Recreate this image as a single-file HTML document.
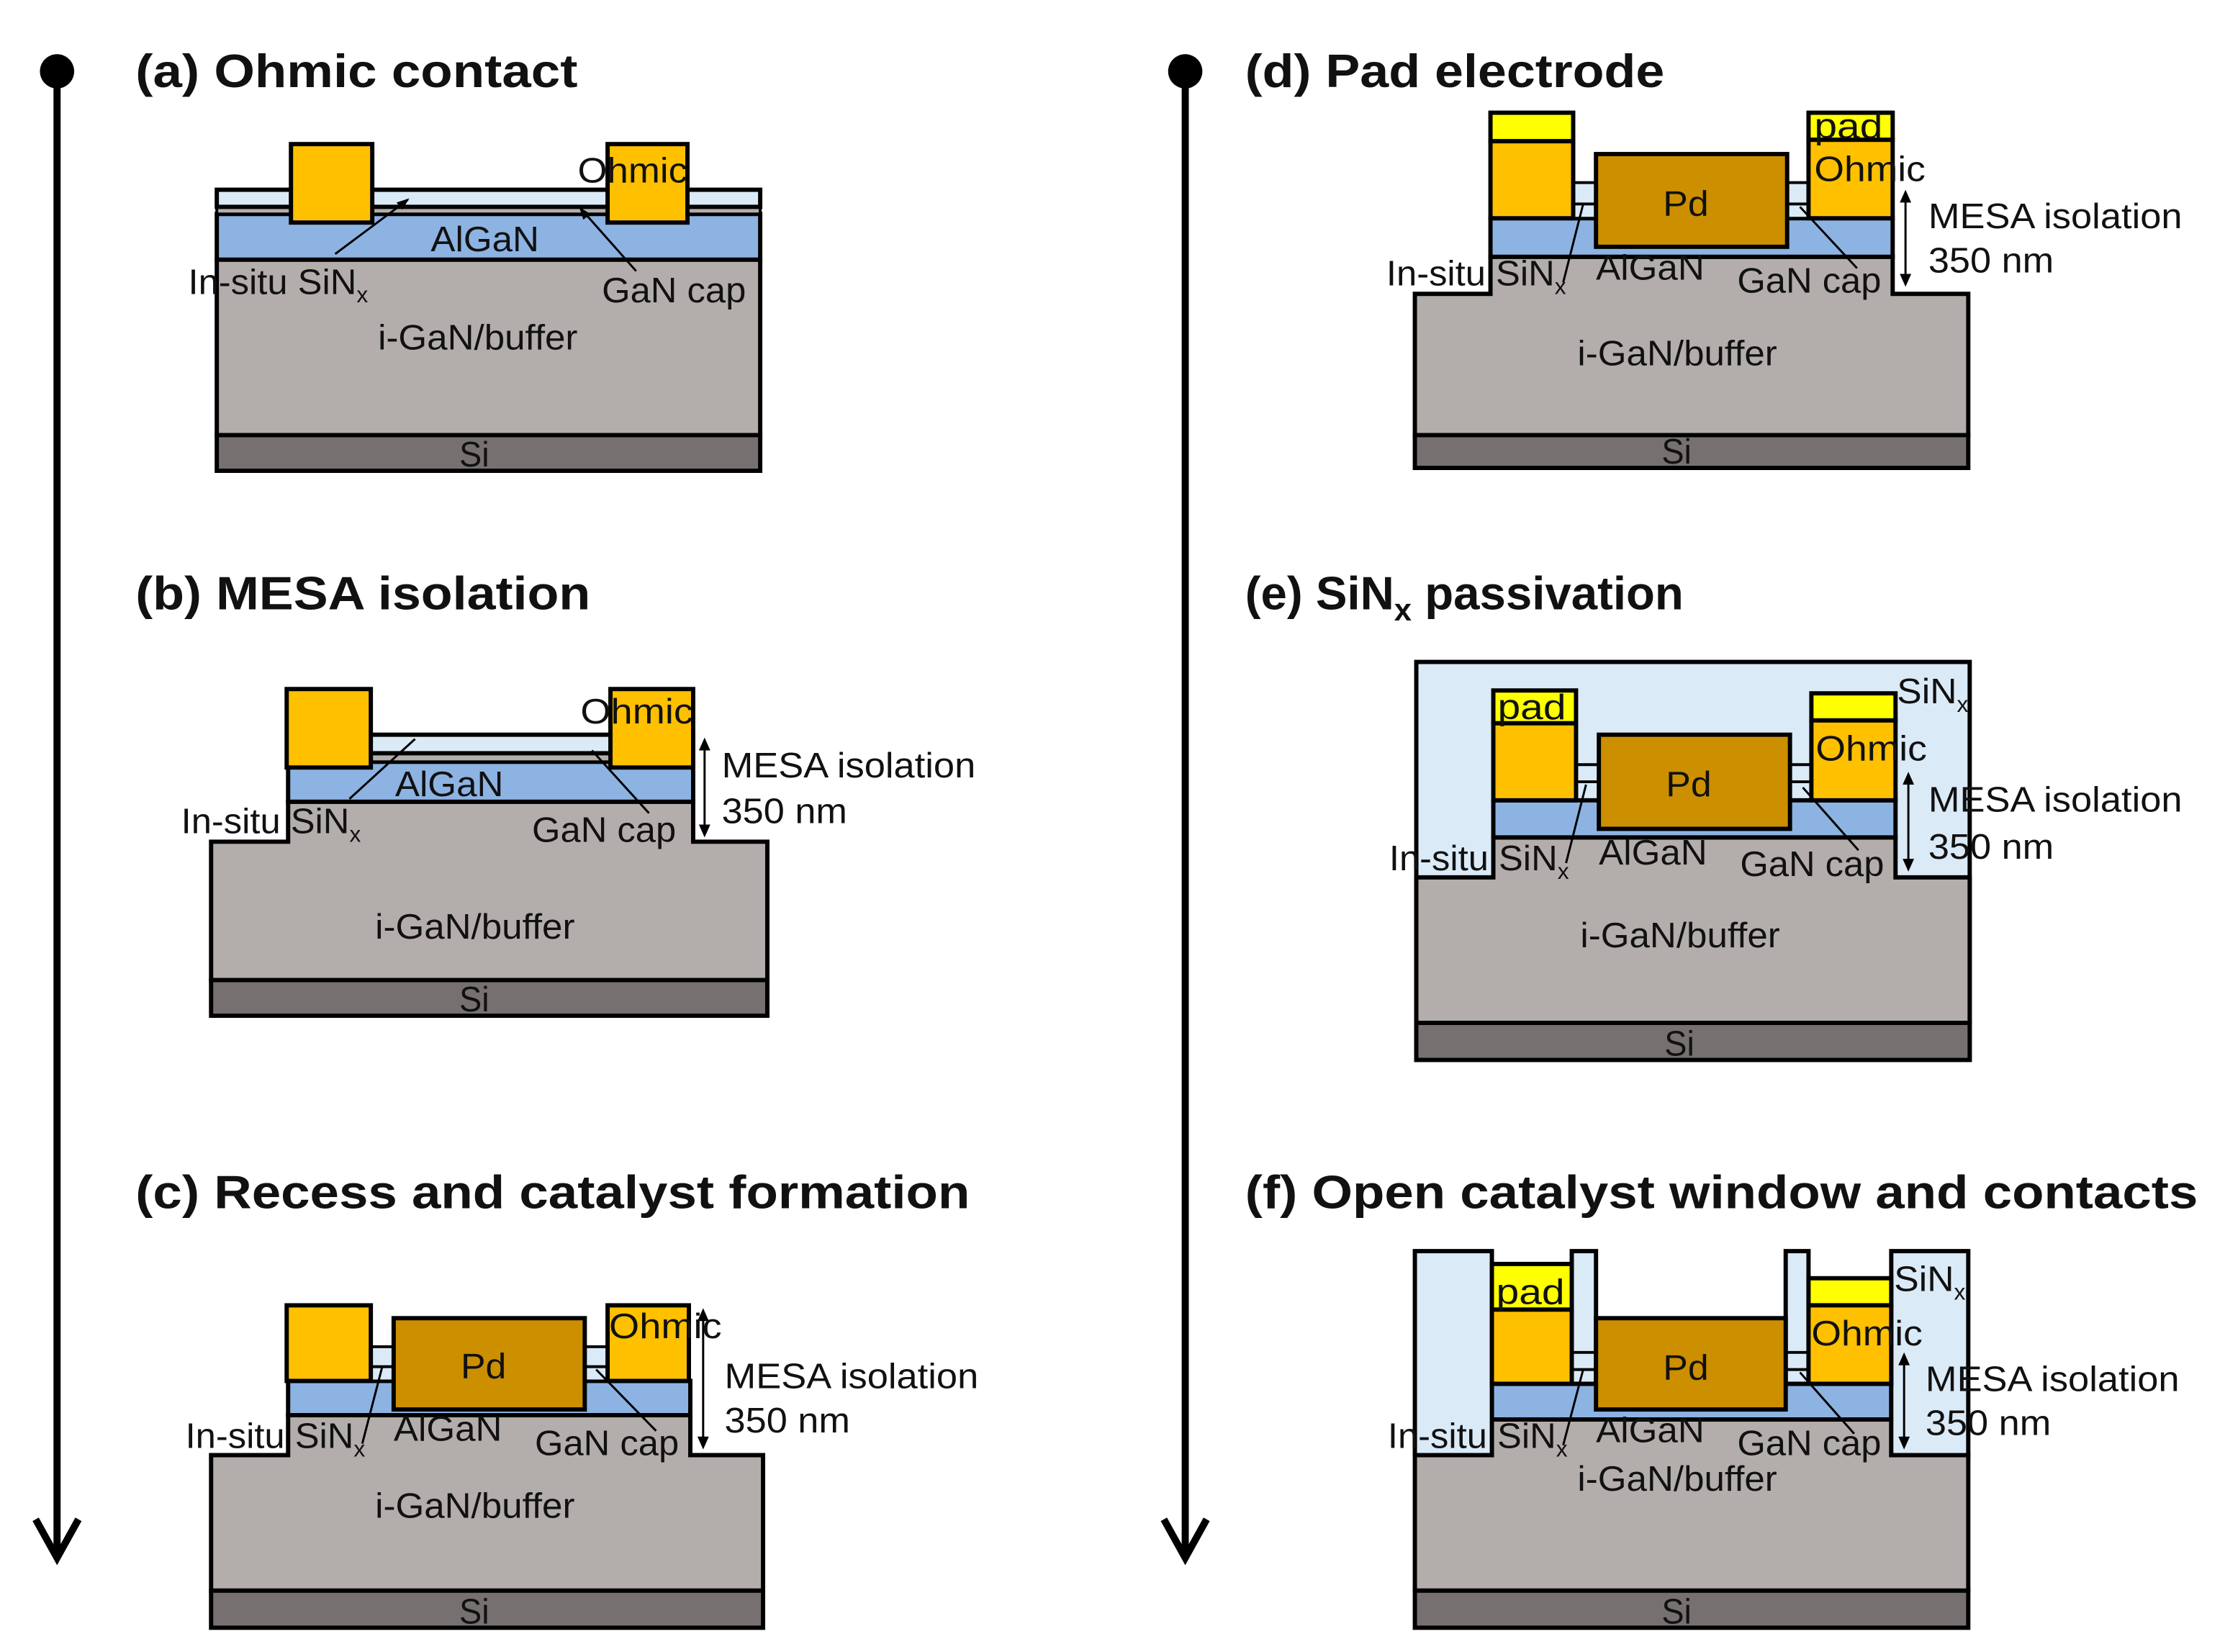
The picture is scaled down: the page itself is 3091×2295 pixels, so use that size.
<!DOCTYPE html>
<html><head><meta charset="utf-8"><style>
html,body{margin:0;padding:0;background:#fff}
svg{display:block}
text{font-family:"Liberation Sans",Arial,sans-serif;fill:#111}
.t{font-size:33px;font-weight:bold}
.l{font-size:25px}
</style></head><body>
<svg width="3091" height="2295" viewBox="0 0 1560 1158" preserveAspectRatio="none" xmlns="http://www.w3.org/2000/svg">
<g stroke="#000" stroke-width="3">
<line x1="40" y1="50" x2="40" y2="1090" stroke-width="5"/>
<polyline points="25,1065 40,1092 55,1065" fill="none" stroke-width="5"/>
<line x1="831" y1="50" x2="831" y2="1090" stroke-width="5"/>
<polyline points="816,1065 831,1092 846,1065" fill="none" stroke-width="5"/>
</g>
<circle cx="40" cy="50" r="12"/><circle cx="831" cy="50" r="12"/>

<!-- ===== (a) ===== -->
<text class="t" x="95" y="61" textLength="310" lengthAdjust="spacingAndGlyphs">(a) Ohmic contact</text>
<g stroke="#000" stroke-width="3">
<rect x="152" y="182" width="381" height="123" fill="#b3aeab"/>
<rect x="152" y="305" width="381" height="25" fill="#767170"/>
<rect x="152" y="150" width="381" height="32" fill="#8db3e2"/>
<rect x="152" y="145" width="381" height="5" fill="#b3aeab" stroke-width="2"/>
<rect x="152" y="133" width="381" height="12" fill="#dbeaf7"/>
<rect x="204" y="101" width="57" height="55" fill="#ffc000"/>
<rect x="426" y="101" width="56" height="55" fill="#ffc000"/>
<line x1="235" y1="178" x2="286" y2="140" stroke-width="1.5"/>
<line x1="446" y1="190" x2="407" y2="146" stroke-width="1.5"/>
</g>
<path d="M287,139 l-9,3 l4,5z"/><path d="M406,145 l3,9 l5,-4z"/>
<text class="l" x="405" y="128" textLength="77" lengthAdjust="spacingAndGlyphs">Ohmic</text>
<text class="l" x="302" y="176" textLength="76" lengthAdjust="spacingAndGlyphs">AlGaN</text>
<text class="l" x="132" y="206"><tspan textLength="118" lengthAdjust="spacingAndGlyphs">In-situ SiN</tspan><tspan font-size="16" dy="6">x</tspan></text>
<text class="l" x="422" y="212" textLength="101" lengthAdjust="spacingAndGlyphs">GaN cap</text>
<text class="l" x="265" y="245" textLength="140" lengthAdjust="spacingAndGlyphs">i-GaN/buffer</text>
<text class="l" x="322" y="327" textLength="21" lengthAdjust="spacingAndGlyphs">Si</text>

<!-- ===== (b) ===== -->
<text class="t" x="95" y="427" textLength="319" lengthAdjust="spacingAndGlyphs">(b) MESA isolation</text>
<g stroke="#000" stroke-width="3">
<path d="M148,687 V590 H202 V562 H486 V590 H538 V687 Z" fill="#b3aeab"/>
<rect x="148" y="687" width="390" height="25" fill="#767170"/>
<rect x="202" y="534" width="284" height="28" fill="#8db3e2"/>
<rect x="202" y="528" width="284" height="6" fill="#b3aeab" stroke-width="2"/>
<rect x="202" y="515" width="284" height="13" fill="#dbeaf7"/>
<rect x="201" y="483" width="59" height="55" fill="#ffc000"/>
<rect x="428" y="483" width="58" height="55" fill="#ffc000"/>
<line x1="245" y1="560" x2="291" y2="518" stroke-width="1.5"/>
<line x1="455" y1="570" x2="415" y2="526" stroke-width="1.5"/>
<line x1="494" y1="520" x2="494" y2="584" stroke-width="1.5"/>
</g>
<path d="M494,517 l-4,9 h8z M494,587 l-4,-9 h8z"/>
<text class="l" x="407" y="507" textLength="79" lengthAdjust="spacingAndGlyphs">Ohmic</text>
<text class="l" x="277" y="558" textLength="76" lengthAdjust="spacingAndGlyphs">AlGaN</text>
<text class="l" x="127" y="584"><tspan textLength="118" lengthAdjust="spacingAndGlyphs">In-situ SiN</tspan><tspan font-size="16" dy="6">x</tspan></text>
<text class="l" x="373" y="590" textLength="101" lengthAdjust="spacingAndGlyphs">GaN cap</text>
<text class="l" x="506" y="545" textLength="178" lengthAdjust="spacingAndGlyphs">MESA isolation</text>
<text class="l" x="506" y="577" textLength="88" lengthAdjust="spacingAndGlyphs">350 nm</text>
<text class="l" x="263" y="658" textLength="140" lengthAdjust="spacingAndGlyphs">i-GaN/buffer</text>
<text class="l" x="322" y="709" textLength="21" lengthAdjust="spacingAndGlyphs">Si</text>

<!-- ===== (c) ===== -->
<text class="t" x="95" y="847" textLength="585" lengthAdjust="spacingAndGlyphs">(c) Recess and catalyst formation</text>
<g stroke="#000" stroke-width="3">
<path d="M148,1115 V1020 H202 V992 H484 V1020 H535 V1115 Z" fill="#b3aeab"/>
<rect x="148" y="1115" width="387" height="26" fill="#767170"/>
<rect x="202" y="968" width="282" height="24" fill="#8db3e2"/>
<rect x="260" y="944" width="16" height="24" fill="#dbeaf7" stroke-width="2"/>
<rect x="410" y="944" width="16" height="24" fill="#dbeaf7" stroke-width="2"/>
<line x1="260" y1="958" x2="276" y2="958" stroke-width="2"/><line x1="410" y1="958" x2="426" y2="958" stroke-width="2"/>
<rect x="201" y="915" width="59" height="53" fill="#ffc000"/>
<rect x="426" y="915" width="57" height="53" fill="#ffc000"/>
<rect x="276" y="924" width="134" height="64" fill="#cc8f00"/>
<line x1="254" y1="1012" x2="268" y2="958" stroke-width="1.5"/>
<line x1="460" y1="1003" x2="418" y2="960" stroke-width="1.5"/>
<line x1="493" y1="922" x2="493" y2="1012" stroke-width="1.5"/>
</g>
<path d="M493,917 l-4,9 h8z M493,1016 l-4,-9 h8z"/>
<text class="l" x="427" y="938" textLength="79" lengthAdjust="spacingAndGlyphs">Ohmic</text>
<text class="l" x="323" y="966" textLength="32" lengthAdjust="spacingAndGlyphs">Pd</text>
<text class="l" x="276" y="1010" textLength="76" lengthAdjust="spacingAndGlyphs">AlGaN</text>
<text class="l" x="130" y="1015"><tspan textLength="118" lengthAdjust="spacingAndGlyphs">In-situ SiN</tspan><tspan font-size="16" dy="6">x</tspan></text>
<text class="l" x="375" y="1020" textLength="101" lengthAdjust="spacingAndGlyphs">GaN cap</text>
<text class="l" x="508" y="973" textLength="178" lengthAdjust="spacingAndGlyphs">MESA isolation</text>
<text class="l" x="508" y="1004" textLength="88" lengthAdjust="spacingAndGlyphs">350 nm</text>
<text class="l" x="263" y="1064" textLength="140" lengthAdjust="spacingAndGlyphs">i-GaN/buffer</text>
<text class="l" x="322" y="1138" textLength="21" lengthAdjust="spacingAndGlyphs">Si</text>

<!-- ===== (d) ===== -->
<text class="t" x="873" y="61" textLength="294" lengthAdjust="spacingAndGlyphs">(d) Pad electrode</text>
<g stroke="#000" stroke-width="3">
<path d="M992,305 V206 H1045 V180 H1327 V206 H1380 V305 Z" fill="#b3aeab"/>
<rect x="992" y="305" width="388" height="23" fill="#767170"/>
<rect x="1045" y="153" width="282" height="27" fill="#8db3e2"/>
<rect x="1103" y="128" width="16" height="25" fill="#dbeaf7" stroke-width="2"/>
<rect x="1253" y="128" width="16" height="25" fill="#dbeaf7" stroke-width="2"/>
<line x1="1103" y1="143" x2="1119" y2="143" stroke-width="2"/><line x1="1253" y1="143" x2="1269" y2="143" stroke-width="2"/>
<rect x="1045" y="79" width="58" height="20" fill="#ffff00"/>
<rect x="1045" y="99" width="58" height="54" fill="#ffc000"/>
<rect x="1268" y="79" width="59" height="19" fill="#ffff00"/>
<rect x="1268" y="98" width="59" height="55" fill="#ffc000"/>
<rect x="1119" y="108" width="134" height="65" fill="#cc8f00"/>
<line x1="1096" y1="198" x2="1110" y2="143" stroke-width="1.5"/>
<line x1="1302" y1="188" x2="1262" y2="145" stroke-width="1.5"/>
<line x1="1336" y1="138" x2="1336" y2="196" stroke-width="1.5"/>
</g>
<path d="M1336,133 l-4,9 h8z M1336,201 l-4,-9 h8z"/>
<text class="l" x="1272" y="97" textLength="48" lengthAdjust="spacingAndGlyphs">pad</text>
<text class="l" x="1272" y="127" textLength="78" lengthAdjust="spacingAndGlyphs">Ohmic</text>
<text class="l" x="1166" y="151" textLength="32" lengthAdjust="spacingAndGlyphs">Pd</text>
<text class="l" x="1119" y="196" textLength="76" lengthAdjust="spacingAndGlyphs">AlGaN</text>
<text class="l" x="972" y="200"><tspan textLength="118" lengthAdjust="spacingAndGlyphs">In-situ SiN</tspan><tspan font-size="16" dy="6">x</tspan></text>
<text class="l" x="1218" y="205" textLength="101" lengthAdjust="spacingAndGlyphs">GaN cap</text>
<text class="l" x="1352" y="160" textLength="178" lengthAdjust="spacingAndGlyphs">MESA isolation</text>
<text class="l" x="1352" y="191" textLength="88" lengthAdjust="spacingAndGlyphs">350 nm</text>
<text class="l" x="1106" y="256" textLength="140" lengthAdjust="spacingAndGlyphs">i-GaN/buffer</text>
<text class="l" x="1165" y="325" textLength="21" lengthAdjust="spacingAndGlyphs">Si</text>

<!-- ===== (e) ===== -->
<text class="t" x="873" y="427">(e)  SiN<tspan font-size="22" dy="8">x</tspan><tspan dy="-8"> passivation</tspan></text>
<g stroke="#000" stroke-width="3">
<rect x="993" y="464" width="388" height="279" fill="#dbeaf7"/>
<path d="M993,717 V615 H1047 V587 H1329 V615 H1381 V717 Z" fill="#b3aeab"/>
<rect x="993" y="717" width="388" height="26" fill="#767170"/>
<rect x="1047" y="561" width="282" height="26" fill="#8db3e2"/>
<line x1="1105" y1="548" x2="1121" y2="548" stroke-width="2"/><line x1="1255" y1="548" x2="1270" y2="548" stroke-width="2"/>
<line x1="1105" y1="536" x2="1121" y2="536" stroke-width="2"/><line x1="1255" y1="536" x2="1270" y2="536" stroke-width="2"/>
<rect x="1047" y="484" width="58" height="23" fill="#ffff00"/>
<rect x="1047" y="507" width="58" height="54" fill="#ffc000"/>
<rect x="1270" y="486" width="59" height="19" fill="#ffff00"/>
<rect x="1270" y="505" width="59" height="56" fill="#ffc000"/>
<rect x="1121" y="515" width="134" height="66" fill="#cc8f00"/>
<line x1="1098" y1="605" x2="1112" y2="550" stroke-width="1.5"/>
<line x1="1303" y1="596" x2="1264" y2="552" stroke-width="1.5"/>
<line x1="1338" y1="546" x2="1338" y2="606" stroke-width="1.5"/>
</g>
<path d="M1338,541 l-4,9 h8z M1338,611 l-4,-9 h8z"/>
<text class="l" x="1050" y="504" textLength="48" lengthAdjust="spacingAndGlyphs">pad</text>
<text class="l" x="1330" y="493"><tspan textLength="42" lengthAdjust="spacingAndGlyphs">SiN</tspan><tspan font-size="16" dy="6">x</tspan></text>
<text class="l" x="1273" y="533" textLength="78" lengthAdjust="spacingAndGlyphs">Ohmic</text>
<text class="l" x="1168" y="558" textLength="32" lengthAdjust="spacingAndGlyphs">Pd</text>
<text class="l" x="1121" y="606" textLength="76" lengthAdjust="spacingAndGlyphs">AlGaN</text>
<text class="l" x="974" y="610"><tspan textLength="118" lengthAdjust="spacingAndGlyphs">In-situ SiN</tspan><tspan font-size="16" dy="6">x</tspan></text>
<text class="l" x="1220" y="614" textLength="101" lengthAdjust="spacingAndGlyphs">GaN cap</text>
<text class="l" x="1352" y="569" textLength="178" lengthAdjust="spacingAndGlyphs">MESA isolation</text>
<text class="l" x="1352" y="602" textLength="88" lengthAdjust="spacingAndGlyphs">350 nm</text>
<text class="l" x="1108" y="664" textLength="140" lengthAdjust="spacingAndGlyphs">i-GaN/buffer</text>
<text class="l" x="1167" y="740" textLength="21" lengthAdjust="spacingAndGlyphs">Si</text>

<!-- ===== (f) ===== -->
<text class="t" x="873" y="847" textLength="668" lengthAdjust="spacingAndGlyphs">(f) Open catalyst window and contacts</text>
<g stroke="#000" stroke-width="3">
<path d="M992,1115 V1020 H1046 V995 H1326 V1020 H1380 V1115 Z" fill="#b3aeab"/>
<rect x="992" y="1115" width="388" height="26" fill="#767170"/>
<rect x="1046" y="970" width="280" height="25" fill="#8db3e2"/>
<rect x="992" y="877" width="54" height="143" fill="#dbeaf7"/>
<rect x="1326" y="877" width="54" height="143" fill="#dbeaf7"/>
<rect x="1102" y="877" width="17" height="93" fill="#dbeaf7"/>
<rect x="1252" y="877" width="16" height="93" fill="#dbeaf7"/>
<line x1="1102" y1="948" x2="1119" y2="948" stroke-width="2"/><line x1="1252" y1="948" x2="1268" y2="948" stroke-width="2"/>
<line x1="1102" y1="960" x2="1119" y2="960" stroke-width="2"/><line x1="1252" y1="960" x2="1268" y2="960" stroke-width="2"/>
<rect x="1046" y="886" width="56" height="32" fill="#ffff00"/>
<rect x="1046" y="918" width="56" height="52" fill="#ffc000"/>
<rect x="1268" y="896" width="58" height="19" fill="#ffff00"/>
<rect x="1268" y="915" width="58" height="55" fill="#ffc000"/>
<rect x="1119" y="924" width="133" height="64" fill="#cc8f00"/>
<line x1="1096" y1="1013" x2="1110" y2="960" stroke-width="1.5"/>
<line x1="1300" y1="1005" x2="1262" y2="962" stroke-width="1.5"/>
<line x1="1335" y1="953" x2="1335" y2="1011" stroke-width="1.5"/>
</g>
<path d="M1335,948 l-4,9 h8z M1335,1016 l-4,-9 h8z"/>
<text class="l" x="1049" y="914" textLength="48" lengthAdjust="spacingAndGlyphs">pad</text>
<text class="l" x="1328" y="905"><tspan textLength="42" lengthAdjust="spacingAndGlyphs">SiN</tspan><tspan font-size="16" dy="6">x</tspan></text>
<text class="l" x="1270" y="943" textLength="78" lengthAdjust="spacingAndGlyphs">Ohmic</text>
<text class="l" x="1166" y="967" textLength="32" lengthAdjust="spacingAndGlyphs">Pd</text>
<text class="l" x="1119" y="1011" textLength="76" lengthAdjust="spacingAndGlyphs">AlGaN</text>
<text class="l" x="973" y="1015"><tspan textLength="118" lengthAdjust="spacingAndGlyphs">In-situ SiN</tspan><tspan font-size="16" dy="6">x</tspan></text>
<text class="l" x="1218" y="1020" textLength="101" lengthAdjust="spacingAndGlyphs">GaN cap</text>
<text class="l" x="1350" y="975" textLength="178" lengthAdjust="spacingAndGlyphs">MESA isolation</text>
<text class="l" x="1350" y="1006" textLength="88" lengthAdjust="spacingAndGlyphs">350 nm</text>
<text class="l" x="1106" y="1045" textLength="140" lengthAdjust="spacingAndGlyphs">i-GaN/buffer</text>
<text class="l" x="1165" y="1138" textLength="21" lengthAdjust="spacingAndGlyphs">Si</text>
</svg>
</body></html>
